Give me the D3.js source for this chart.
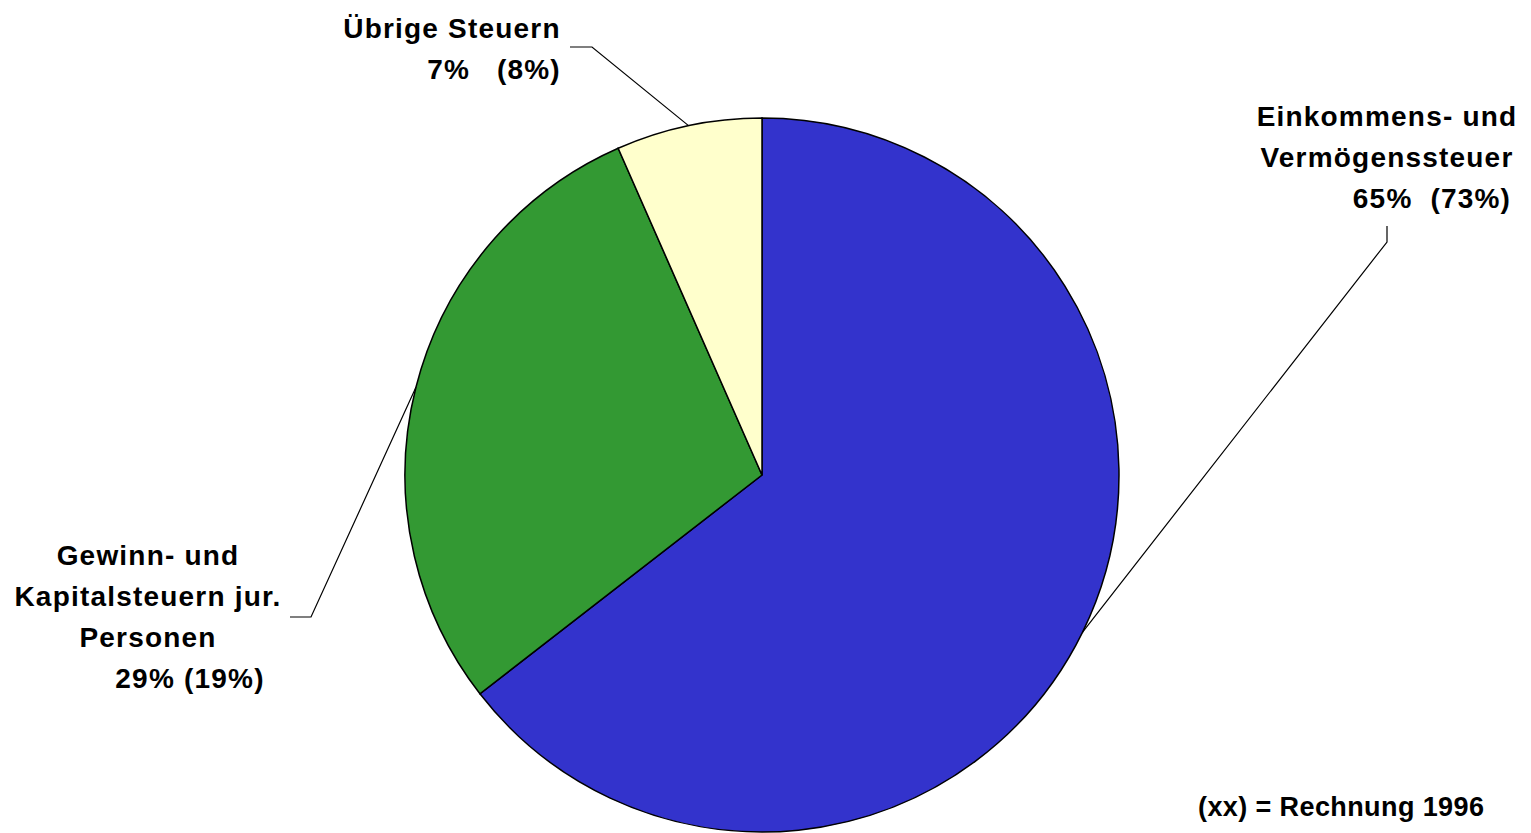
<!DOCTYPE html>
<html>
<head>
    <meta charset="utf-8" />
    <title>Steuerertrag</title>
    <style>
        body { margin: 0; background: #fff; }
        text { font-family: "Liberation Sans", Arial, sans-serif; font-weight: bold; fill: #000; }
    </style>
</head>
<body>
<script src="https://d3js.org/d3.v7.min.js"></script>
<script>
    // data
    var categories = [
        ["Einkommens- und", "Vermögenssteuer"],
        ["Gewinn- und", "Kapitalsteuern jur.", "Personen"],
        ["Übrige Steuern"]
    ];
    var shares = [64.5, 28.9, 6.6];
    var shares1996 = [73, 19, 8];
    var colors = ["#3333cc", "#339933", "#ffffcc"];
    var footnote = "(xx) = Rechnung 1996";

    var width = 1531, height = 833;
    var cx = 762, cy = 475, radius = 357;

    // where each label block sits and where its leader line bends
    var labelPos = [
        {x: 1387, y: 126, pctX: 1432, elbow: [[1387, 226], [1387, 242]], pctGap: "  "},
        {x: 148, y: 565, pctX: 190, elbow: [[290, 617], [311, 617]], pctGap: " "},
        {x: 452, y: 38, pctX: 494, elbow: [[570, 47], [592, 47]], pctGap: "   "}
    ];

    var svg = d3.select("body").append("svg")
        .attr("width", width)
        .attr("height", height);

    var pie = d3.pie().sort(null).value(d => d);
    var arcs = pie(shares);

    var arc = d3.arc().innerRadius(0).outerRadius(radius);

    var g = svg.append("g").attr("transform", "translate(" + cx + "," + cy + ")");

    g.selectAll("path")
        .data(arcs)
        .enter().append("path")
        .attr("d", arc)
        .attr("fill", (d, i) => colors[i])
        .attr("stroke", "#000")
        .attr("stroke-width", 1.5);

    // leader lines
    arcs.forEach(function(a, i) {
        var mid = (a.startAngle + a.endAngle) / 2;
        var px = cx + radius * Math.sin(mid);
        var py = cy - radius * Math.cos(mid);
        var pts = labelPos[i].elbow.concat([[px, py]]);
        svg.append("path")
            .attr("d", d3.line()(pts))
            .attr("fill", "none")
            .attr("stroke", "#000")
            .attr("stroke-width", 1.2);
    });

    // labels
    categories.forEach(function(lines, i) {
        var p = labelPos[i];
        var t = svg.append("text")
            .attr("text-anchor", "middle")
            .attr("font-size", 28)
            .attr("letter-spacing", 1.2)
            .attr("xml:space", "preserve");
        var pct = Math.round(shares[i]) + "%" + p.pctGap + "(" + shares1996[i] + "%)";
        var all = lines.concat([pct]);
        all.forEach(function(s, j) {
            t.append("tspan")
                .attr("x", j === all.length - 1 ? p.pctX : p.x)
                .attr("y", p.y + j * 41)
                .text(s);
        });
    });

    svg.append("text")
        .attr("x", 1198)
        .attr("y", 816)
        .attr("font-size", 27)
        .attr("letter-spacing", 0.4)
        .text(footnote);
</script>
</body>
</html>
